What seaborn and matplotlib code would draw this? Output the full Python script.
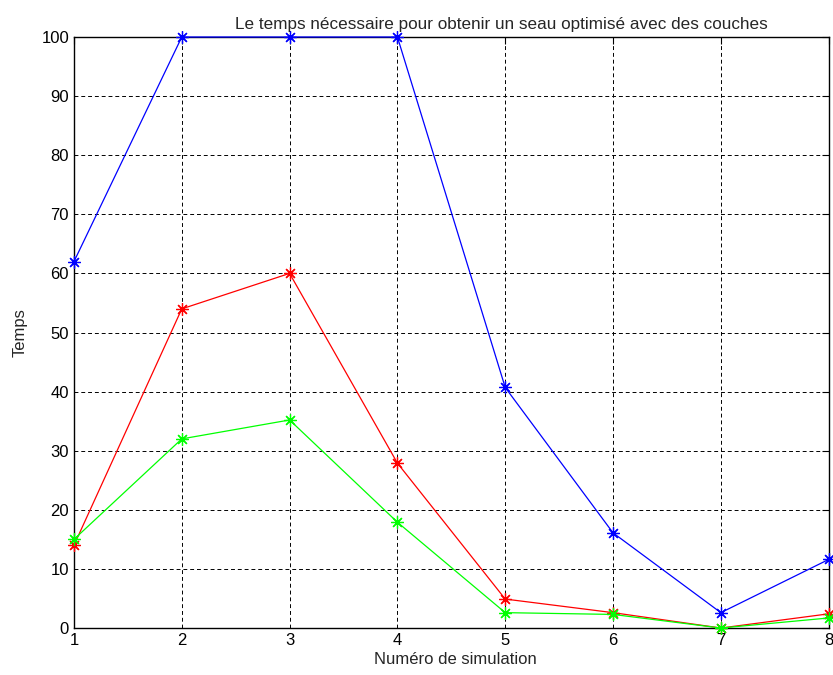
import pandas as pd
import seaborn as sns
import matplotlib.pyplot as plt

simulation = [1, 2, 3, 4, 5, 6, 7, 8]
temps_bleu = [62, 100, 100, 100, 40.7, 16.1, 2.6, 11.6]
temps_rouge = [14, 54, 60, 27.9, 4.9, 2.6, 0, 2.4]
temps_vert = [15, 32, 35.2, 17.9, 2.6, 2.3, 0, 1.7]

df = pd.DataFrame({
    'sim': simulation * 3,
    'temps': temps_bleu + temps_rouge + temps_vert,
    'serie': ['bleu'] * 8 + ['rouge'] * 8 + ['vert'] * 8,
})

sns.set_style('white')
plt.rcParams['font.family'] = ['Liberation Sans', 'DejaVu Sans']

fig = plt.figure(figsize=(8.33, 6.75), dpi=100)
ax = fig.add_axes([0.0888, 0.0696, 0.906, 0.8756])

# asterisque a la MATLAB : 8 branches
ast = (8, 2, 0)
sns.lineplot(data=df, x='sim', y='temps', hue='serie', style='serie',
             palette={'bleu': '#0000ff', 'rouge': '#ff0000', 'vert': '#00ff00'},
             markers={'bleu': ast, 'rouge': ast, 'vert': ast},
             dashes=False, markersize=9, linewidth=0.9,
             legend=False, clip_on=False, zorder=3, ax=ax)
# seaborn met un contour blanc, on remet la couleur de la ligne
for ln in ax.lines:
    ln.set_markeredgecolor(ln.get_color())
    ln.set_markeredgewidth(0.9)

ax.set_xlim(1, 8)
ax.set_ylim(0, 100)
ax.set_xticks(range(1, 9))
ax.set_yticks(range(0, 101, 10))
ax.grid(True, color='black', linestyle=(0, (4, 3)), linewidth=0.7)
ax.tick_params(direction='in', length=5, labelsize=12, color='black', labelcolor='black',
               top=True, right=True)
for sp in ax.spines.values():
    sp.set_color('black')
    sp.set_linewidth(1)

ax.set_title('Le temps nécessaire pour obtenir un seau optimisé avec des couches',
             fontsize=12.3, loc='center', x=0.566, pad=6)
ax.set_xlabel('Numéro de simulation', fontsize=12)
ax.xaxis.set_label_coords(0.505, -0.041)
ax.set_ylabel('Temps', fontsize=12, labelpad=10)

plt.savefig('out.png', dpi=100)
